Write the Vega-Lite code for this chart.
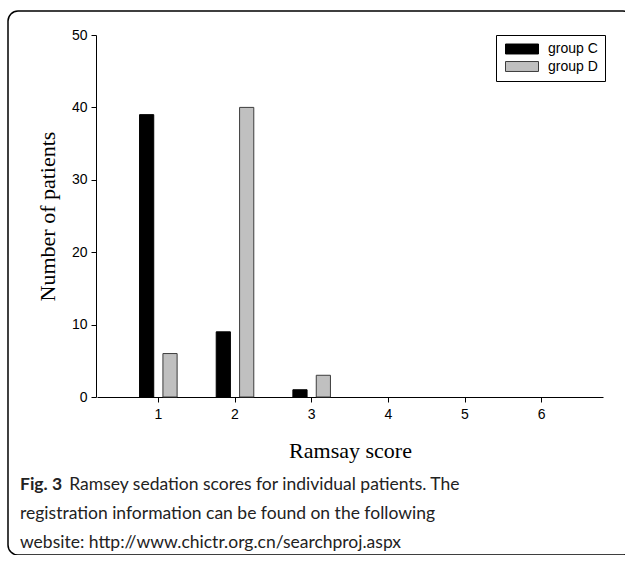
{
  "$schema": "https://vega.github.io/schema/vega-lite/v6.json",
  "width": 625,
  "height": 544,
  "autosize": {"type": "none"},
  "padding": {"left": 8, "top": 11, "right": 0, "bottom": 0},
  "background": "white",
  "config": {
    "view": {"stroke": "#000000", "strokeWidth": 1.5, "cornerRadius": 10},
    "font": "Liberation Sans"
  },
  "title": {
    "text": "Fig. 3",
    "subtitle": [
      "\u200b\u00a0\u00a0\u00a0\u00a0\u00a0\u00a0\u00a0\u00a0\u00a0\u00a0\u00a0Ramsey sedation scores for individual patients. The",
      "registration information can be found on the following",
      "website: http://www.chictr.org.cn/searchproj.aspx"
    ],
    "orient": "bottom",
    "anchor": "start",
    "frame": "group",
    "offset": -79,
    "dx": 12,
    "font": "Lato",
    "fontSize": 17.5,
    "fontWeight": "bold",
    "color": "#222222",
    "subtitleFont": "Lato",
    "subtitleFontSize": 17.5,
    "subtitleFontWeight": "normal",
    "subtitleColor": "#222222",
    "subtitleLineHeight": 29,
    "subtitlePadding": -17.5
  },
  "data": {
    "values": [
      {"score": 1, "group": "group C", "patients": 39},
      {"score": 1, "group": "group D", "patients": 6},
      {"score": 2, "group": "group C", "patients": 9},
      {"score": 2, "group": "group D", "patients": 40},
      {"score": 3, "group": "group C", "patients": 1},
      {"score": 3, "group": "group D", "patients": 3}
    ]
  },
  "mark": {"type": "bar", "strokeWidth": 1},
  "encoding": {
    "x": {
      "field": "score",
      "type": "ordinal",
      "scale": {"domain": [1, 2, 3, 4, 5, 6], "range": [89, 595], "paddingInner": 0.51, "paddingOuter": 0.555},
      "axis": {
        "offset": -158,
        "title": "Ramsay score",
        "titleFont": "Liberation Serif",
        "titleFontSize": 22,
        "titleFontWeight": "normal",
        "titleColor": "#000000",
        "titlePadding": 19,
        "labelAngle": 0,
        "labelFont": "Liberation Sans",
        "labelFontSize": 14,
        "labelColor": "#000000",
        "labelPadding": 5,
        "tickSize": 5,
        "tickColor": "#000000",
        "domainColor": "#000000",
        "grid": false
      }
    },
    "xOffset": {
      "field": "group",
      "type": "nominal",
      "scale": {"paddingInner": 0.393, "paddingOuter": 0}
    },
    "y": {
      "field": "patients",
      "type": "quantitative",
      "scale": {"domain": [0, 50], "range": [386, 24], "nice": false},
      "axis": {
        "offset": -88,
        "values": [0, 10, 20, 30, 40, 50],
        "title": "Number of patients",
        "titleFont": "Liberation Serif",
        "titleFontSize": 22,
        "titleFontWeight": "normal",
        "titleColor": "#000000",
        "titlePadding": 12,
        "labelFont": "Liberation Sans",
        "labelFontSize": 14,
        "labelColor": "#000000",
        "labelPadding": 4,
        "tickSize": 5,
        "tickColor": "#000000",
        "domainColor": "#000000",
        "grid": false
      }
    },
    "fill": {
      "field": "group",
      "type": "nominal",
      "scale": {"domain": ["group C", "group D"], "range": ["#000000", "#c0c0c0"]},
      "legend": {
        "title": null,
        "orient": "none",
        "legendX": 488,
        "legendY": 24,
        "strokeColor": "#000000",
        "fillColor": "#ffffff",
        "padding": 7,
        "symbolType": "M-2.75,-0.83H2.75V0.83H-2.75Z",
        "symbolSize": 144,
        "symbolOffset": 12,
        "symbolStrokeWidth": 1,
        "labelFont": "Liberation Sans",
        "labelFontSize": 14,
        "labelColor": "#000000",
        "labelOffset": 19,
        "rowPadding": 3.5
      }
    },
    "stroke": {
      "field": "group",
      "type": "nominal",
      "scale": {"domain": ["group C", "group D"], "range": ["#000000", "#3c3c3c"]}
    }
  }
}
